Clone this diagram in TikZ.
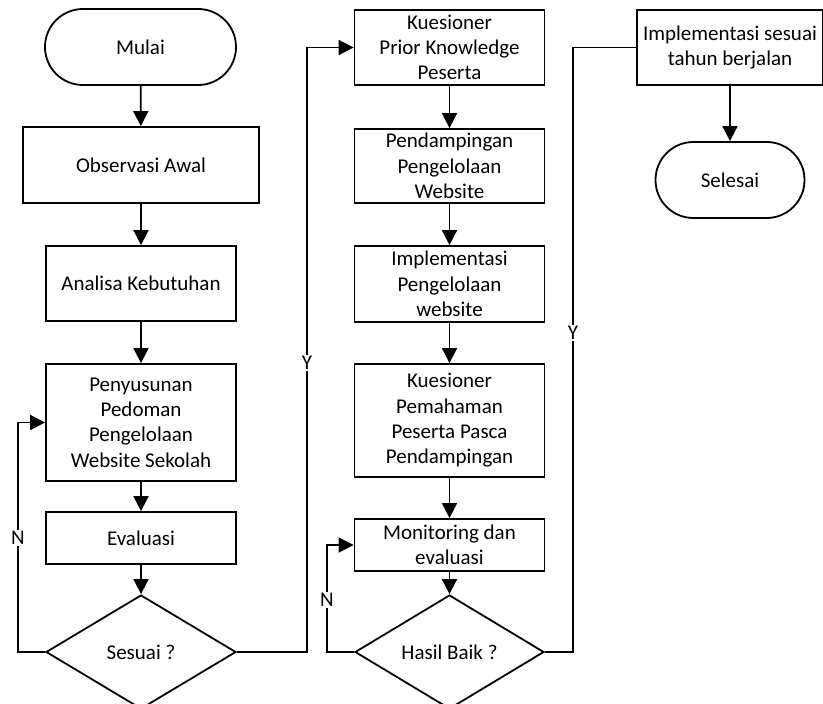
\documentclass[tikz,border=0pt]{standalone}
\usepackage{fontspec}
\setmainfont{Carlito}
\usetikzlibrary{shapes.geometric,arrows.meta}
\begin{document}
\begin{tikzpicture}[x=1pt,y=-1pt,
  base/.style={draw, line width=1.8pt, align=center, inner sep=0pt, font=\fontsize{21}{25.3}\selectfont},
  proc/.style={base, rectangle, minimum width=190pt},
  term/.style={base, rectangle, rounded corners=37.9pt, minimum height=76pt},
  dec/.style={base, diamond, aspect=1.667, minimum width=190pt, minimum height=114pt},
  conn/.style={line width=1.8pt, -{Triangle[length=15pt,width=15pt]}},
  plain/.style={line width=1.8pt},
  lbl/.style={fill=white, inner sep=1.5pt, font=\fontsize{21}{24}\selectfont}]
\useasboundingbox (0,0) rectangle (823,704);

% column 1
\node[term, minimum width=191pt] (mulai) at (140.5,47) {Mulai};
\node[proc, minimum width=236pt, minimum height=76pt] (obs) at (141,165) {Observasi Awal};
\node[proc, minimum height=75pt] (ana) at (141,283.5) {Analisa Kebutuhan};
\node[proc, minimum height=117pt] (pen) at (141,422.5) {Penyusunan\\Pedoman\\Pengelolaan\\Website Sekolah};
\node[proc, minimum height=52pt] (eva) at (141,538) {Evaluasi};
\node[dec] (ses) at (141,652) {Sesuai ?};

% column 2
\node[proc, minimum height=75pt] (k1) at (449.5,47.5) {Kuesioner\\Prior Knowledge\\Peserta};
\node[proc, minimum height=74pt] (pd) at (449.5,166) {Pendampingan\\Pengelolaan\\Website};
\node[proc, minimum height=76pt] (im) at (449.5,284) {Implementasi\\Pengelolaan\\website};
\node[proc, minimum height=113pt] (k2) at (449.5,420.5) {Kuesioner\\Pemahaman\\Peserta Pasca\\Pendampingan};
\node[proc, minimum height=52pt] (mon) at (449.5,545) {Monitoring dan\\evaluasi};
\node[dec, minimum width=189pt] (hb) at (449.5,652) {Hasil Baik ?};

% column 3
\node[proc, minimum width=186pt, minimum height=75pt] (is) at (730,47.5) {Implementasi sesuai\\tahun berjalan};
\node[term, minimum width=149pt] (sel) at (730,180) {Selesai};

% helper coordinates
\coordinate (nl) at (18,652);
\coordinate (yl) at (307,652);
\coordinate (nl2) at (327,652);
\coordinate (yl2) at (573,652);

% connectors column 1
\draw[conn] (mulai) -- (obs);
\draw[conn] (obs) -- (ana);
\draw[conn] (ana) -- (pen);
\draw[conn] (pen) -- (eva);
\draw[conn] (eva) -- (ses);
\draw[conn] (ses.west) -- (nl) |- (pen.west);
\draw[conn] (ses.east) -- (yl) |- (k1.west);

% connectors column 2
\draw[conn] (k1) -- (pd);
\draw[conn] (pd) -- (im);
\draw[conn] (im) -- (k2);
\draw[conn] (k2) -- (mon);
\draw[conn] (mon) -- (hb);
\draw[conn] (hb.west) -- (nl2) |- (mon.west);
\draw[plain] (hb.east) -- (yl2) |- (is.west);

% column 3
\draw[conn] (is) -- (sel);

% labels
\node[lbl] (lN1) at (18,538) {N};
\node[lbl] (lY1) at (307,363) {Y};
\node[lbl] (lN2) at (327,600) {N};
\node[lbl] (lY2) at (573,333) {Y};
\end{tikzpicture}
\end{document}
